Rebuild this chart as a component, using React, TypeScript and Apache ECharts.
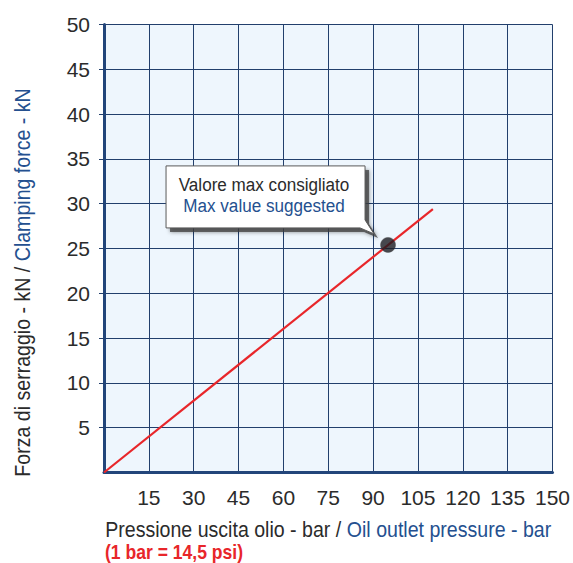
import React, { useEffect, useRef } from "react";
import * as echarts from "echarts";

// ---- data ----
const xMin = 0;
const xMax = 150;
const xStep = 15;
const yMin = 0;
const yMax = 50;
const yStep = 5;
const lineX = [0, 110];
const lineY = [0, 29.4];
const maxPoint = [95, 25.4];

// ---- texts ----
const xTitleIt = "Pressione uscita olio - bar / ";
const xTitleEn = "Oil outlet pressure - bar";
const yTitleIt = "Forza di serraggio - kN / ";
const yTitleEn = "Clamping force - kN";
const noteText = "(1 bar = 14,5 psi)";
const calloutIt = "Valore max consigliato";
const calloutEn = "Max value suggested";

const FONT = "Liberation Sans, Arial, sans-serif";
const DARK = "#2b2b2b";
const BLUE = "#24508f";
const RED = "#e8262a";
const GRIDC = "#223f6c";
const AXISC = "#22457a";
const NARROW = 0.89;

export default function App() {
  const ref = useRef<HTMLDivElement>(null);
  useEffect(() => {
    document.body.style.margin = "0";
    const el = ref.current!;
    const chart = echarts.init(el, null, { renderer: "svg" });
    const lineData = lineX.map((x, i) => [x, lineY[i]]);
    chart.setOption({
      animation: false,
      grid: {
        left: 104,
        right: 19,
        top: 24.5,
        bottom: 90.5,
        show: true,
        backgroundColor: "#eef6fd",
        borderWidth: 0,
      },
      xAxis: {
        type: "value",
        min: xMin,
        max: xMax,
        interval: xStep,
        axisLine: { show: true, onZero: false, lineStyle: { color: AXISC, width: 3 } },
        axisTick: { show: false },
        splitLine: { show: true, lineStyle: { color: GRIDC, width: 1 } },
        axisLabel: { showMinLabel: false, fontSize: 21, color: DARK, margin: 14, fontFamily: FONT },
      },
      yAxis: {
        type: "value",
        min: yMin,
        max: yMax,
        interval: yStep,
        axisLine: { show: true, onZero: false, lineStyle: { color: AXISC, width: 3 } },
        axisTick: { show: true, length: 5, lineStyle: { color: GRIDC, width: 1 } },
        splitLine: { show: true, lineStyle: { color: GRIDC, width: 1 } },
        axisLabel: { showMinLabel: false, fontSize: 21, color: DARK, margin: 14, fontFamily: FONT },
      },
      series: [
        {
          type: "line",
          data: lineData,
          symbol: "none",
          lineStyle: { color: RED, width: 2.2 },
          z: 3,
        },
        {
          type: "scatter",
          data: [maxPoint],
          symbolSize: 15,
          itemStyle: { color: "#1c1c20", borderColor: "#444", borderWidth: 0.5 },
          z: 4,
        },
      ],
    });

    const p = chart.convertToPixel({ gridIndex: 0 }, maxPoint) as number[];
    const [px, py] = p;
    const L = px - 222, T = py - 79, R = px - 23, B = py - 17;
    const cx = px - 124;
    const plotCx = (chart.convertToPixel({ gridIndex: 0 }, [xMin, yMin]) as number[])[0] / 2 +
      (chart.convertToPixel({ gridIndex: 0 }, [xMax, yMin]) as number[])[0] / 2;
    const calloutPts = (dx: number, dy: number) => [
      [L + dx, T + dy],
      [R + dx, T + dy],
      [R + dx, py - 25 + dy],
      [px - 14 + dx, py - 11 + dy],
      [px - 28 + dx, B + dy],
      [L + dx, B + dy],
    ];
    chart.setOption({
      graphic: [
        {
          type: "polygon",
          shape: { points: calloutPts(4, 4) },
          style: {
            fill: "rgba(60,60,60,0.75)",
            shadowBlur: 4,
            shadowColor: "rgba(0,0,0,0.6)",
          },
          z: 9,
        },
        {
          type: "polygon",
          shape: { points: calloutPts(0, 0) },
          style: {
            fill: "#ffffff",
            stroke: "#5a5a5a",
            lineWidth: 1,
          },
          z: 10,
        },
        {
          type: "text",
          x: cx,
          y: T + 19,
          scaleX: 0.9,
          style: { text: calloutIt, fill: DARK, fontSize: 19, fontFamily: FONT, align: "center", verticalAlign: "middle" },
          z: 11,
        },
        {
          type: "text",
          x: cx,
          y: T + 39.5,
          scaleX: 0.9,
          style: { text: calloutEn, fill: BLUE, fontSize: 19, fontFamily: FONT, align: "center", verticalAlign: "middle" },
          z: 11,
        },
        {
          type: "text",
          x: plotCx,
          y: 529,
          scaleX: NARROW,
          style: {
            text: `{a|${xTitleIt}}{b|${xTitleEn}}`,
            align: "center",
            verticalAlign: "middle",
            rich: {
              a: { fontSize: 22, fill: DARK, fontFamily: FONT },
              b: { fontSize: 22, fill: BLUE, fontFamily: FONT },
            },
          },
          z: 11,
        },
        {
          type: "text",
          x: 105,
          y: 552,
          scaleX: 0.9,
          style: { text: noteText, fill: RED, fontSize: 19.5, fontWeight: "bold", fontFamily: FONT, align: "left", verticalAlign: "middle" },
          z: 11,
        },
        {
          type: "text",
          x: 22,
          y: 282.5,
          rotation: Math.PI / 2,
          scaleX: NARROW,
          style: {
            text: `{a|${yTitleIt}}{b|${yTitleEn}}`,
            align: "center",
            verticalAlign: "middle",
            rich: {
              a: { fontSize: 22, fill: DARK, fontFamily: FONT },
              b: { fontSize: 22, fill: BLUE, fontFamily: FONT },
            },
          },
          z: 11,
        },
      ],
    });
    return () => chart.dispose();
  }, []);
  return <div ref={ref} style={{ width: 573, height: 563 }} />;
}
